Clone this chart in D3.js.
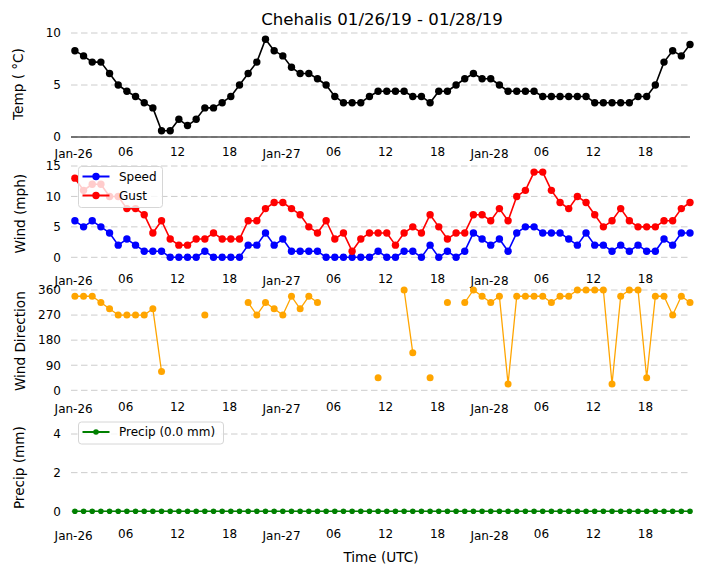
<!DOCTYPE html>
<html>
<head>
<meta charset="utf-8">
<script src="https://cdn.jsdelivr.net/npm/d3@7"></script>
<style>
  body { margin: 0; background: #fff; }
  svg text { font-family: "DejaVu Sans", sans-serif; fill: #000; }
  .grid line { stroke: #cccccc; stroke-width: 1; stroke-dasharray: 6.5,3.5; }
</style>
</head>
<body>
<div id="chart"></div>
<script>
// hourly obs, Chehalis 01/26/19 - 01/28/19
var startTime = Date.UTC(2019, 0, 26, 0, 12);
var nObs = 72;

var tempC = [8.3, 7.8, 7.2, 7.2, 6.1, 5.0, 4.4, 3.9, 3.3, 2.8, 0.6, 0.6,
             1.7, 1.1, 1.7, 2.8, 2.8, 3.3, 3.9, 5.0, 6.1, 7.2, 9.4, 8.3,
             7.8, 6.7, 6.1, 6.1, 5.6, 5.0, 3.9, 3.3, 3.3, 3.3, 3.9, 4.4,
             4.4, 4.4, 4.4, 3.9, 3.9, 3.3, 4.4, 4.4, 5.0, 5.6, 6.1, 5.6,
             5.6, 5.0, 4.4, 4.4, 4.4, 4.4, 3.9, 3.9, 3.9, 3.9, 3.9, 3.9,
             3.3, 3.3, 3.3, 3.3, 3.3, 3.9, 3.9, 5.0, 7.2, 8.3, 7.8, 8.9];

var windSpeed = [6, 5, 6, 5, 4, 2, 3, 2, 1, 1, 1, 0,
                 0, 0, 0, 1, 0, 0, 0, 0, 2, 2, 4, 2,
                 3, 1, 1, 1, 1, 0, 0, 0, 0, 0, 0, 1,
                 0, 0, 1, 1, 0, 2, 0, 1, 0, 1, 4, 3,
                 2, 3, 1, 4, 5, 5, 4, 4, 4, 3, 2, 4,
                 2, 2, 1, 2, 1, 2, 1, 1, 3, 2, 4, 4];

var windGust = [13, 11, 12, 12, 10, 10, 8, 8, 7, 4, 6, 3,
                2, 2, 3, 3, 4, 3, 3, 3, 6, 6, 8, 9,
                9, 8, 7, 5, 4, 6, 3, 4, 1, 3, 4, 4,
                4, 2, 4, 5, 4, 7, 5, 3, 4, 4, 7, 7,
                6, 8, 6, 10, 11, 14, 14, 11, 9, 8, 10, 9,
                7, 5, 6, 8, 6, 5, 5, 5, 6, 6, 8, 9];

// null = calm / missing direction
var windDir = [337.5, 337.5, 337.5, 315, 292.5, 270, 270, 270, 270, 292.5, 67.5, null,
               null, null, null, 270, null, null, null, null, 315, 270, 315, 292.5,
               270, 337.5, 292.5, 337.5, 315, null, null, null, null, null, null, 45,
               null, null, 360, 135, null, 45, null, 315, null, 315, 360, 337.5,
               315, 337.5, 22.5, 337.5, 337.5, 337.5, 337.5, 315, 337.5, 337.5, 360, 360,
               360, 360, 22.5, 337.5, 360, 360, 45, 337.5, 337.5, 270, 337.5, 315];

var precipMm = [0, 0, 0, 0, 0, 0, 0, 0, 0, 0, 0, 0,
                0, 0, 0, 0, 0, 0, 0, 0, 0, 0, 0, 0,
                0, 0, 0, 0, 0, 0, 0, 0, 0, 0, 0, 0,
                0, 0, 0, 0, 0, 0, 0, 0, 0, 0, 0, 0,
                0, 0, 0, 0, 0, 0, 0, 0, 0, 0, 0, 0,
                0, 0, 0, 0, 0, 0, 0, 0, 0, 0, 0, 0];

var tempTicks = [0, 5, 10];
var windTicks = [0, 5, 10, 15];
var dirTicks = [0, 90, 180, 270, 360];
var precipTicks = [0, 2, 4];

var times = d3.range(nObs).map(function(i) { return d3.utcHour.offset(new Date(startTime), i); });

var width = 704, height = 573;

var svg = d3.select("#chart").append("svg")
    .attr("width", width)
    .attr("height", height);

// shared time axis
var x = d3.scaleUtc()
    .domain([d3.utcMinute.offset(d3.utcDay.floor(times[0]), -15), times[nObs - 1]])
    .range([71, 690]);

var xTicks = d3.utcHour.every(6).range(d3.utcDay.floor(times[0]), times[nObs - 1]);
var fmtDay = d3.utcFormat("%b-%d"), fmtHour = d3.utcFormat("%H");

function isMidnight(d) { return d.getUTCHours() === 0; }

// panel builder
function panel(opt) {
    var y = d3.scaleLinear().domain(opt.domain).range(opt.range);
    var g = svg.append("g");

    // dashed grid
    g.append("g").attr("class", "grid")
        .selectAll("line").data(opt.ticks).enter().append("line")
        .attr("x1", x.range()[0]).attr("x2", x.range()[1])
        .attr("y1", function(d) { return y(d); })
        .attr("y2", function(d) { return y(d); });

    if (opt.baseLine) {
        g.append("line")
            .attr("x1", x.range()[0]).attr("x2", x.range()[1])
            .attr("y1", y(0)).attr("y2", y(0))
            .attr("stroke", "#000").attr("stroke-width", 1.2);
    }

    // y axis
    var ya = g.append("g")
        .attr("transform", "translate(" + x.range()[0] + ",0)")
        .call(d3.axisLeft(y).tickValues(opt.ticks).tickSize(0).tickPadding(10)
            .tickFormat(d3.format("d")));
    ya.select(".domain").remove();
    ya.selectAll("text").style("font-size", "12px").attr("font-family", null);

    // x axis (labels only)
    var xa = g.append("g")
        .attr("transform", "translate(0," + opt.xLabelY + ")")
        .call(d3.axisBottom(x).tickValues(xTicks).tickSize(0).tickPadding(0)
            .tickFormat(function(d) { return isMidnight(d) ? fmtDay(d) : fmtHour(d); }));
    xa.select(".domain").remove();
    xa.selectAll("text")
        .style("font-size", "12px")
        .attr("font-family", null)
        .attr("dy", function(d) { return isMidnight(d) ? "2" : "0"; });

    // y title
    g.append("text")
        .attr("transform", "translate(" + opt.titleX + "," + ((opt.range[0] + opt.range[1]) / 2 + opt.titleShift) + ") rotate(-90)")
        .attr("text-anchor", "middle")
        .attr("dominant-baseline", "central")
        .style("font-size", "13.6px")
        .text(opt.title);

    return {g: g, y: y};
}

function series(p, values, color, lw, r) {
    var line = d3.line()
        .defined(function(d) { return d != null; })
        .x(function(d, i) { return x(times[i]); })
        .y(function(d) { return p.y(d); });
    p.g.append("path")
        .datum(values)
        .attr("fill", "none")
        .attr("stroke", color)
        .attr("stroke-width", lw)
        .attr("stroke-linejoin", "round")
        .attr("d", line);
    var pts = values.map(function(v, i) { return {v: v, t: times[i]}; })
        .filter(function(d) { return d.v != null; });
    p.g.append("g").selectAll("circle").data(pts).enter().append("circle")
        .attr("cx", function(d) { return x(d.t); })
        .attr("cy", function(d) { return p.y(d.v); })
        .attr("r", r)
        .attr("fill", color);
}

function legend(p, items, box) {
    var lg = p.g.append("g");
    lg.append("rect")
        .attr("x", box[0]).attr("y", box[1])
        .attr("width", box[2]).attr("height", box[3])
        .attr("rx", 3)
        .attr("fill", "#fff").attr("fill-opacity", 0.8)
        .attr("stroke", "#d6d6d6");
    items.forEach(function(it, k) {
        var yy = box[1] + 10 + k * 19;
        lg.append("line")
            .attr("x1", box[0] + 4).attr("x2", box[0] + 31)
            .attr("y1", yy).attr("y2", yy)
            .attr("stroke", it.color).attr("stroke-width", 2);
        lg.append("circle")
            .attr("cx", box[0] + 17.5).attr("cy", yy).attr("r", it.r)
            .attr("fill", it.color);
        lg.append("text")
            .attr("x", box[0] + 40.5).attr("y", yy)
            .attr("dominant-baseline", "central")
            .style("font-size", "12px")
            .text(it.label);
    });
}

// title
svg.append("text")
    .attr("x", 382).attr("y", 25)
    .attr("text-anchor", "middle")
    .style("font-size", "16.6px")
    .text("Chehalis 01/26/19 - 01/28/19");

// temperature
var pTemp = panel({domain: [0, 10], range: [137, 33], ticks: tempTicks, xLabelY: 156,
    title: "Temp ( °C)", titleX: 18, titleShift: -1, baseLine: true});
series(pTemp, tempC, "#000000", 1.6, 3.7);

// wind speed / gust
var pWind = panel({domain: [0, 15], range: [257.3, 166], ticks: windTicks, xLabelY: 283,
    title: "Wind (mph)", titleX: 20, titleShift: 2});
series(pWind, windSpeed, "#0000ff", 1.6, 3.7);
series(pWind, windGust, "#ff0000", 1.6, 3.7);
legend(pWind, [{label: "Speed", color: "#0000ff", r: 3.7}, {label: "Gust", color: "#ff0000", r: 3.7}],
    [78.5, 166.5, 84, 41]);

// wind direction
var pDir = panel({domain: [0, 360], range: [390.3, 290], ticks: dirTicks, xLabelY: 411,
    title: "Wind Direction", titleX: 20, titleShift: 1});
series(pDir, windDir, "#ffa500", 1.3, 3.5);

// precip
var pPrecip = panel({domain: [0, 4], range: [511.3, 434], ticks: precipTicks, xLabelY: 538,
    title: "Precip (mm)", titleX: 19, titleShift: -5});
series(pPrecip, precipMm, "#008000", 1.6, 2.8);
legend(pPrecip, [{label: "Precip (" + d3.format(".1f")(d3.sum(precipMm)) + " mm)", color: "#008000", r: 2.8}],
    [78.5, 422, 145, 22]);

// x title
svg.append("text")
    .attr("x", 381).attr("y", 562)
    .attr("text-anchor", "middle")
    .style("font-size", "13.6px")
    .text("Time (UTC)");
</script>
</body>
</html>
